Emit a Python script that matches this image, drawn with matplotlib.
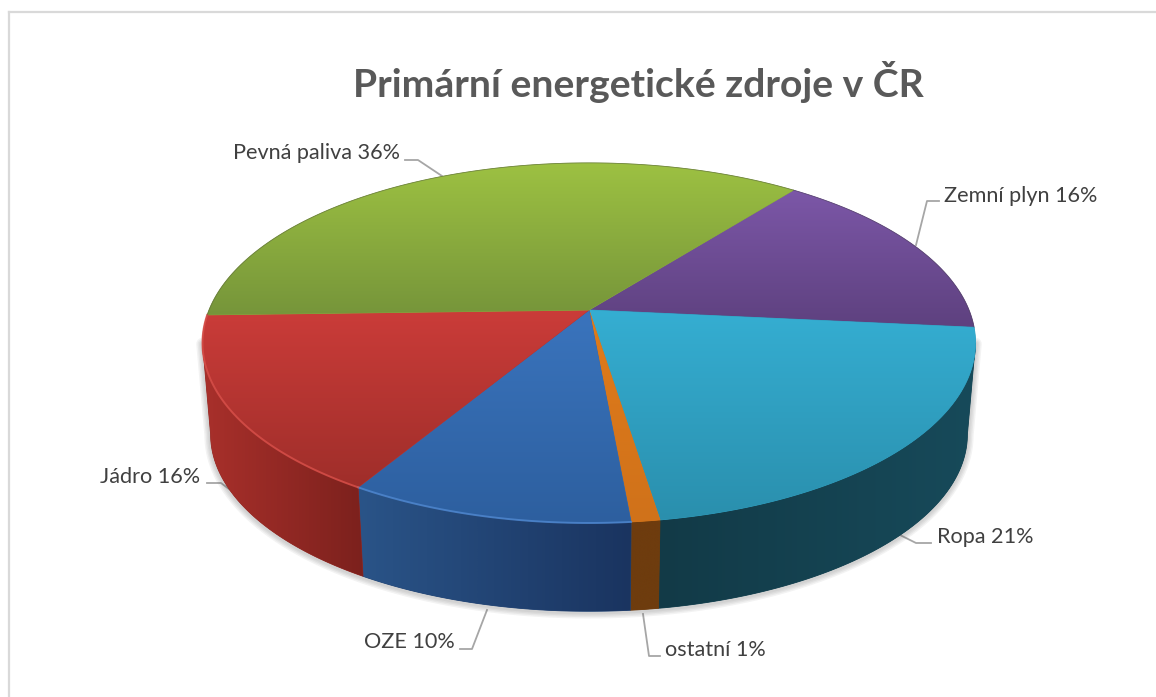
import numpy as np
import matplotlib
matplotlib.use("Agg")
import matplotlib.pyplot as plt
from matplotlib.patches import Polygon

plt.rcParams['font.family'] = ['Lato', 'DejaVu Sans']

# data
labels = ['Zemní plyn', 'Ropa', 'ostatní', 'OZE', 'Jádro', 'Pevná paliva']
values = [16, 21, 1, 10, 16, 36]
title = 'Primární energetické zdroje v ČR'

# colours: top face (upper, lower), wall (left, right)
face_top = ['#7c57a8', '#35aed2', '#e07b1a', '#3a74bd', '#cb3c39', '#9dc142']
face_low = ['#5e417f', '#2a8fad', '#d0721a', '#2d5f9f', '#9f2e2a', '#76953a']
wall_left = [None, '#123a47', '#6e3c0e', '#2a5488', '#a9302b', None]
wall_right = [None, '#174a5a', '#6e3c0e', '#1a3460', '#7c211d', None]
rim = [None, None, None, '#5088d0', '#d8504a', None]

# label placement, pixels
label_x = [944, 937, 665, 455, 200, 400]
label_y = [196, 537, 650, 642, 477, 153]
label_ha = ['left', 'left', 'left', 'right', 'right', 'right']
leader_x = [[939, 927, 916], [931, 916, 900], [660, 649, 643],
            [460, 472, 487], [207, 221, 233], [405, 418, 442]]
leader_y = [[201, 201, 245], [543, 543, 535], [656, 656, 614],
            [649, 649, 610], [483, 483, 492], [160, 160, 176]]

# pie geometry
start_angle = 52
persp = 0.183
top_disk = (589, 310, 380, 174)
bot_disk = (589, 402, 372, 171)
# wall is seen only below the tangent points of the disk
wall_from = -np.degrees(np.arcsin(persp))
wall_to = -180 - wall_from


def disk_xy(t, disk):
    cx, cy, rx, ry = disk
    t = np.radians(t)
    d = 1 + persp * np.sin(t)
    return cx + rx * np.cos(t) / d, cy - ry * np.sin(t) / d


def gradient(ax, poly, c0, c1, zo, vertical=True):
    c0 = np.array(matplotlib.colors.to_rgb(c0))
    c1 = np.array(matplotlib.colors.to_rgb(c1))
    a = np.linspace(0, 1, 256)[:, None]
    img = (1 - a) * c0 + a * c1
    img = img[:, None, :] if vertical else img[None, :, :]
    x0, y0 = poly.min(axis=0)
    x1, y1 = poly.max(axis=0)
    # flat copy under the image keeps the clipped edge smooth
    under = Polygon(poly, closed=True, fc=(c0 + c1) / 2, ec=(c0 + c1) / 2, lw=0.6, zorder=zo)
    ax.add_patch(under)
    im = ax.imshow(img, extent=(x0, x1, y1, y0), aspect='auto', zorder=zo + 0.1,
                   interpolation='bilinear')
    im.set_clip_path(under)


fig = plt.figure(figsize=(11.56, 6.97), dpi=100, facecolor='white')
ax = fig.add_axes([0, 0, 1, 1])
ax.axis('off')

edges = start_angle - 360 * np.cumsum([0] + values) / np.sum(values)

# chart frame
ax.plot([9, 9], [697, 12], color='#d9d9d9', lw=1.6, zorder=1)
ax.plot([9, 1156], [12, 12], color='#d9d9d9', lw=1.6, zorder=1)

# soft shadow under the wall
ts = np.linspace(wall_from, wall_to, 200)
tx, ty = disk_xy(ts, top_disk)
bx, by = disk_xy(ts, bot_disk)
for lw in [9, 7, 5, 3]:
    ax.plot(np.r_[tx[0], bx, tx[-1]], np.r_[ty[0], by, ty[-1]] + 1, color='#555555', alpha=0.07,
            lw=lw, zorder=2, solid_capstyle='round')

# walls
for i in range(len(values)):
    if wall_left[i] is None:
        continue
    t = np.linspace(min(edges[i], wall_from), max(edges[i + 1], wall_to), 80)
    tx, ty = disk_xy(t, top_disk)
    bx, by = disk_xy(t, bot_disk)
    poly = np.column_stack([np.r_[tx, bx[::-1]], np.r_[ty, by[::-1]]])
    gradient(ax, poly, wall_left[i], wall_right[i], 3 + i, vertical=False)

# top faces
for i in range(len(values)):
    t = np.linspace(edges[i], edges[i + 1], 120)
    tx, ty = disk_xy(t, top_disk)
    cx, cy = top_disk[:2]
    poly = np.column_stack([np.r_[cx, tx], np.r_[cy, ty]])
    gradient(ax, poly, face_top[i], face_low[i], 20 + i, vertical=True)

# rim highlight and outline
for i in range(len(values)):
    t = np.linspace(edges[i], edges[i + 1], 120)
    tx, ty = disk_xy(t, top_disk)
    if rim[i]:
        ax.plot(tx, ty, color=rim[i], lw=1.4, alpha=0.8, zorder=40)
    elif np.all(np.sin(np.radians(t)) > -0.1):
        ax.plot(tx, ty, color='#444444', lw=0.6, alpha=0.4, zorder=40)

# labels
for i in range(len(values)):
    ax.plot(leader_x[i], leader_y[i], color='#a6a6a6', lw=1.3, zorder=1.5)
    ax.text(label_x[i], label_y[i], f'{labels[i]} {values[i]}%', ha=label_ha[i], va='center',
            fontsize=15.6, color='#404040', zorder=42)

ax.text(638, 82, title, ha='center', va='center', fontsize=28.2, fontweight='bold', color='#595959')

ax.set_xlim(0, 1156)
ax.set_ylim(697, 0)
fig.savefig('out.png', dpi=100)
